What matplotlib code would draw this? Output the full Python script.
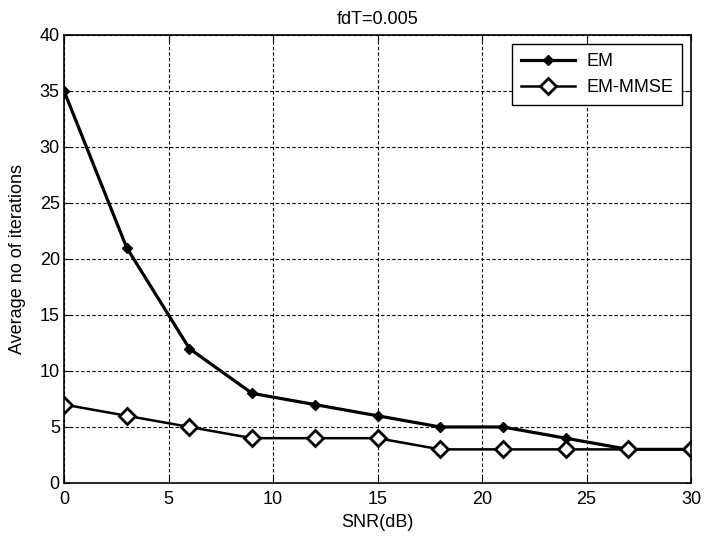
import matplotlib
matplotlib.use("Agg")
import matplotlib.pyplot as plt

snr = [0, 3, 6, 9, 12, 15, 18, 21, 24, 27, 30]
em = [35, 21, 12, 8, 7, 6, 5, 5, 4, 3, 3]
em_mmse = [7, 6, 5, 4, 4, 4, 3, 3, 3, 3, 3]
xticks = [0, 5, 10, 15, 20, 25, 30]
yticks = [0, 5, 10, 15, 20, 25, 30, 35, 40]

plt.rcParams['font.family'] = ['Liberation Sans', 'DejaVu Sans']

fig = plt.figure(figsize=(7.08, 5.36), dpi=100)
ax = fig.add_axes([0.0904, 0.0989, 0.976 - 0.0904, 0.935 - 0.0989])

ax.plot(snr, em, color='black', lw=2.3, marker='D', ms=5.5, mfc='black', mec='black', label='EM')
ax.plot(snr, em_mmse, color='black', lw=1.8, marker='D', ms=8.5, mfc='white', mec='black', mew=2.0,
        label='EM-MMSE')

ax.set_xlim(0, 30)
ax.set_ylim(0, 40)
ax.set_xticks(xticks)
ax.set_yticks(yticks)
ax.tick_params(direction='in', top=True, right=True, labelsize=13, length=4)
ax.tick_params(axis='x', pad=6)
ax.tick_params(axis='y', pad=3)
ax.grid(True, color='black', linestyle=(0, (3, 2)), linewidth=0.8)
for s in ax.spines.values():
    s.set_linewidth(1.2)

ax.set_xlabel('SNR(dB)', fontsize=13, labelpad=4)
ax.set_ylabel('Average no of iterations', fontsize=13, labelpad=10)
ax.set_title('fdT=0.005', fontsize=13, pad=8)

leg = ax.legend(loc='upper right', fontsize=13, frameon=True, fancybox=False, edgecolor='black',
                framealpha=1, handlelength=3.0, handletextpad=0.6, borderpad=0.5,
                labelspacing=0.5, borderaxespad=0.5)
leg.get_frame().set_linewidth(1.0)

fig.savefig('out.png', dpi=100)
